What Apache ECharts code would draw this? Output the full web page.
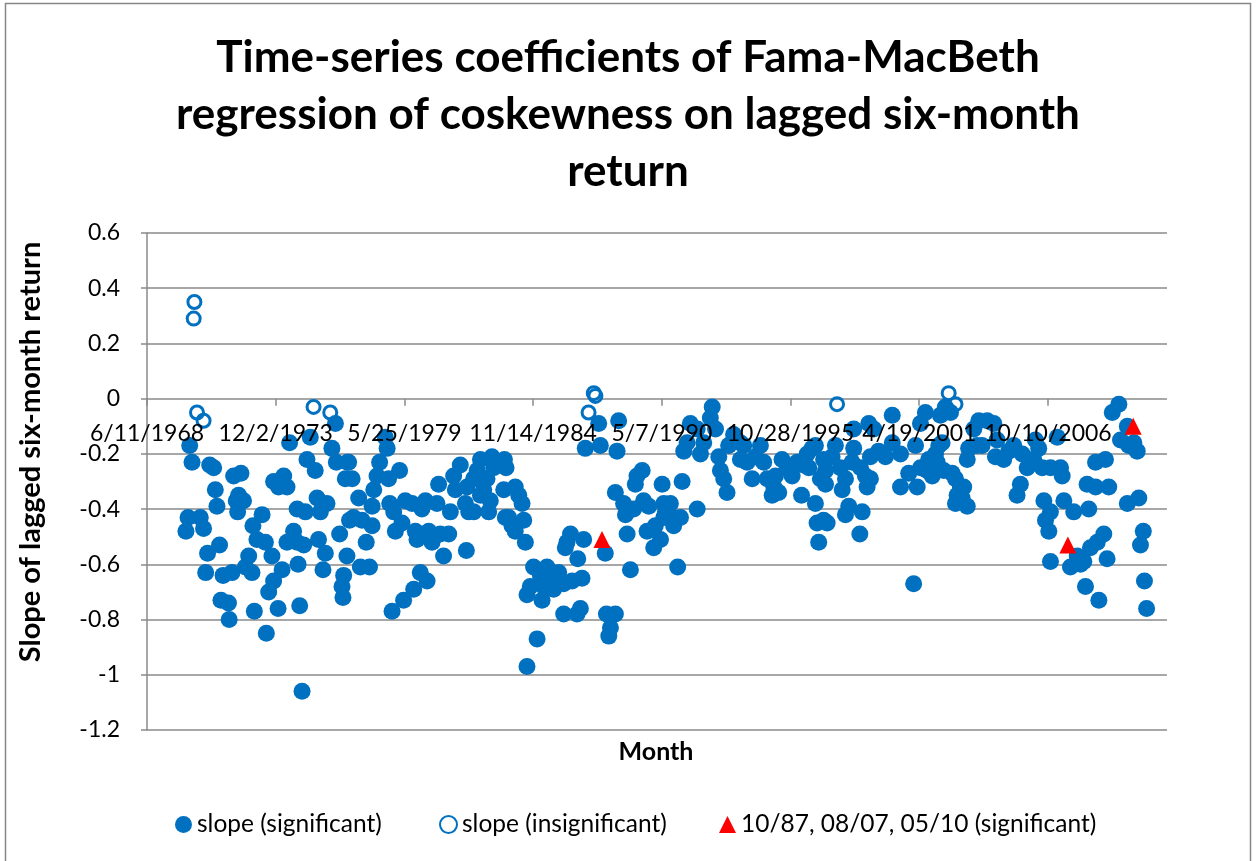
<!DOCTYPE html>
<html lang="en">
<head>
<meta charset="UTF-8">
<title>Fama-MacBeth coskewness slopes</title>
<script src="https://cdn.jsdelivr.net/npm/echarts@6/dist/echarts.min.js"></script>
<style>
    html, body { margin: 0; padding: 0; background: #fff; }
    #chart { width: 1256px; height: 861px; }
</style>
</head>
<body>
<div id="chart"></div>

<script type="text/javascript">
    // [decimal year, slope]
    var significant = [
        [1970.26,-0.17],[1970.36,-0.23],[1971.11,-0.24],[1971.28,-0.25],[1971.35,-0.33],[1971.42,-0.39],[1970.19,-0.43],[1970.71,-0.43],
        [1970.10,-0.48],[1970.85,-0.47],[1971.53,-0.53],[1971.02,-0.56],[1970.94,-0.63],[1971.68,-0.64],[1972.06,-0.63],[1971.59,-0.73],
        [1971.91,-0.74],[1971.94,-0.80],[1972.13,-0.28],[1972.44,-0.27],[1972.34,-0.35],[1972.24,-0.37],[1972.55,-0.37],[1972.30,-0.41],
        [1973.34,-0.42],[1972.95,-0.46],[1973.12,-0.51],[1973.48,-0.52],[1973.76,-0.57],[1972.77,-0.57],[1972.63,-0.61],[1972.91,-0.63],
        [1974.19,-0.62],[1973.83,-0.66],[1973.62,-0.70],[1973.01,-0.77],[1974.02,-0.76],[1973.52,-0.85],[1975.04,-1.06],[1973.83,-0.30],
        [1974.04,-0.32],[1974.26,-0.28],[1974.40,-0.32],[1974.51,-0.16],[1974.83,-0.40],[1975.18,-0.41],[1974.68,-0.48],[1974.40,-0.52],
        [1974.83,-0.52],[1975.11,-0.53],[1974.87,-0.60],[1974.94,-0.75],[1975.39,-0.14],[1975.25,-0.22],[1975.60,-0.26],[1975.68,-0.36],
        [1976.10,-0.38],[1975.82,-0.41],[1975.74,-0.51],[1976.03,-0.56],[1975.93,-0.62],[1976.31,-0.18],[1976.50,-0.23],[1976.46,-0.09],
        [1976.64,-0.49],[1976.88,-0.29],[1976.95,-0.57],[1976.81,-0.64],[1976.74,-0.68],[1976.78,-0.72],[1977.06,-0.44],[1976.97,-0.23],
        [1978.58,-0.14],[1978.66,-0.18],[1977.02,-0.23],[1977.17,-0.29],[1978.34,-0.23],[1979.19,-0.26],[1978.23,-0.28],[1978.72,-0.29],
        [1978.09,-0.33],[1977.45,-0.36],[1978.02,-0.39],[1977.23,-0.43],[1977.59,-0.44],[1978.02,-0.46],[1978.77,-0.38],[1978.94,-0.41],
        [1979.01,-0.48],[1977.77,-0.52],[1977.52,-0.61],[1977.91,-0.61],[1979.43,-0.37],[1979.72,-0.38],[1980.29,-0.37],[1980.14,-0.40],
        [1979.29,-0.45],[1979.86,-0.48],[1979.93,-0.51],[1980.43,-0.48],[1980.57,-0.52],[1980.92,-0.49],[1981.28,-0.49],[1981.06,-0.57],
        [1980.85,-0.31],[1980.78,-0.38],[1981.35,-0.41],[1981.49,-0.28],[1981.77,-0.24],[1980.07,-0.63],[1980.36,-0.66],[1979.79,-0.69],
        [1979.36,-0.73],[1978.87,-0.77],[1982.03,-0.55],[1981.56,-0.33],[1982.06,-0.32],[1982.34,-0.29],[1982.49,-0.26],[1981.99,-0.38],
        [1982.34,-0.41],[1982.13,-0.41],[1982.63,-0.22],[1983.12,-0.21],[1982.91,-0.29],[1982.77,-0.33],[1982.63,-0.35],[1983.05,-0.37],
        [1982.98,-0.41],[1983.19,-0.25],[1983.48,-0.23],[1983.62,-0.33],[1983.69,-0.43],
        [1983.65,-0.22],[1983.72,-0.25],[1984.11,-0.32],[1984.26,-0.35],[1984.40,-0.38],[1983.83,-0.43],[1983.97,-0.46],[1984.11,-0.48],
        [1984.47,-0.44],[1984.54,-0.52],[1984.89,-0.61],[1984.75,-0.68],[1984.61,-0.71],[1985.18,-0.64],[1985.46,-0.61],[1985.68,-0.66],
        [1985.96,-0.63],[1985.32,-0.68],[1985.74,-0.69],[1985.25,-0.73],[1986.17,-0.67],[1986.53,-0.66],[1986.95,-0.65],[1986.17,-0.78],
        [1986.74,-0.78],[1986.88,-0.76],[1985.04,-0.87],[1984.61,-0.97],[1986.46,-0.49],[1986.31,-0.52],[1986.24,-0.54],[1987.02,-0.51],
        [1986.77,-0.58],[1987.94,-0.56],[1987.99,-0.78],[1988.37,-0.78],[1988.16,-0.83],[1988.09,-0.86],[1987.09,-0.18],[1987.73,-0.17],
        [1988.44,-0.19],[1987.66,-0.09],[1988.51,-0.08],[1988.37,-0.34],[1989.51,-0.26],[1989.22,-0.31],[1989.29,-0.28],[1988.72,-0.38],
        [1988.80,-0.42],[1989.15,-0.40],[1989.57,-0.37],[1989.79,-0.39],[1988.87,-0.49],[1989.01,-0.62],[1989.72,-0.48],[1990.07,-0.46],
        [1990.00,-0.54],[1990.29,-0.51],[1990.43,-0.43],[1990.36,-0.31],
        [1991.21,-0.30],[1990.43,-0.38],[1990.71,-0.38],[1990.50,-0.41],[1990.78,-0.43],[1990.85,-0.46],[1991.14,-0.43],[1991.85,-0.40],
        [1991.02,-0.61],[1991.28,-0.19],[1991.42,-0.16],[1991.56,-0.09],[1991.85,-0.11],[1991.99,-0.20],[1992.13,-0.16],[1992.49,-0.03],
        [1992.41,-0.07],[1992.63,-0.11],[1992.77,-0.21],[1993.19,-0.17],[1993.40,-0.13],[1993.69,-0.16],[1992.84,-0.26],[1992.98,-0.29],
        [1993.12,-0.34],[1993.83,-0.17],[1993.69,-0.22],[1993.97,-0.23],[1994.19,-0.29],[1994.33,-0.21],[1994.54,-0.17],[1994.68,-0.23],
        [1994.83,-0.29],[1995.11,-0.32],[1995.04,-0.35],[1995.32,-0.34],[1995.18,-0.28],[1995.46,-0.22],[1995.68,-0.25],[1995.89,-0.28],
        [1996.10,-0.23],[1996.38,-0.24],[1996.60,-0.25],[1996.53,-0.20],[1996.74,-0.18],[1996.88,-0.17],[1996.29,-0.35],[1996.88,-0.38],
        [1996.95,-0.45],[1997.02,-0.52],[1997.09,-0.29],[1997.23,-0.22],[1997.23,-0.44],
        [1997.31,-0.26],[1997.31,-0.31],[1997.38,-0.45],[1997.59,-0.21],[1997.73,-0.17],[1997.94,-0.25],[1998.16,-0.29],[1998.02,-0.33],
        [1998.30,-0.39],[1998.16,-0.42],[1998.87,-0.41],[1998.77,-0.49],[1998.51,-0.11],[1998.51,-0.18],[1998.44,-0.23],[1998.80,-0.25],
        [1999.01,-0.28],[1999.08,-0.32],[1999.22,-0.29],[1999.15,-0.09],[1999.36,-0.11],[1999.22,-0.21],[1999.57,-0.19],[1999.86,-0.21],
        [2000.15,-0.06],[2000.15,-0.16],[2000.50,-0.20],[2000.50,-0.32],[2000.85,-0.27],[2001.21,-0.32],[2001.06,-0.67],[2001.14,-0.17],
        [2001.35,-0.09],[2001.56,-0.05],[2001.35,-0.25],[2001.63,-0.26],[2001.70,-0.22],[2001.99,-0.20],[2002.13,-0.17],[2002.27,-0.16],
        [2001.85,-0.28],[2002.06,-0.23],[2002.34,-0.26],[2002.70,-0.27],[2002.84,-0.29],[2003.05,-0.32],[2003.19,-0.32],[2002.91,-0.35],
        [2002.84,-0.38],[2003.34,-0.39],[2003.12,-0.36],[2002.20,-0.06],[2002.41,-0.03],[2002.63,-0.05],[2003.62,-0.11],[2003.40,-0.18],
        [2003.34,-0.22],[2003.76,-0.17],[2003.83,-0.08],
        [2004.19,-0.08],[2004.47,-0.09],[2003.97,-0.17],[2004.61,-0.15],[2004.54,-0.21],[2004.89,-0.22],[2005.11,-0.19],[2005.32,-0.17],
        [2005.68,-0.20],[2005.89,-0.25],[2006.17,-0.22],[2006.38,-0.18],[2006.53,-0.25],[2006.24,-0.15],[2007.17,-0.14],[2006.88,-0.25],
        [2007.31,-0.25],[2007.38,-0.28],[2005.60,-0.31],[2005.46,-0.35],[2006.60,-0.37],[2006.88,-0.41],[2006.67,-0.44],[2006.81,-0.48],
        [2007.45,-0.37],[2007.87,-0.41],[2008.51,-0.40],[2006.88,-0.59],[2008.02,-0.57],[2008.30,-0.59],[2007.73,-0.61],[2008.16,-0.60],
        [2008.58,-0.54],[2008.87,-0.52],[2009.15,-0.49],[2009.29,-0.58],[2008.37,-0.68],[2008.94,-0.73],[2008.44,-0.31],[2008.80,-0.32],
        [2009.36,-0.32],[2008.80,-0.23],[2009.22,-0.22],[2009.51,-0.05],[2009.79,-0.02],[2010.15,-0.10],[2009.86,-0.15],[2010.21,-0.17],
        [2010.57,-0.19],[2010.43,-0.16],[2010.15,-0.38],[2010.64,-0.36],[2010.83,-0.48],[2010.71,-0.53],[2010.88,-0.66],[2010.97,-0.76]
    ];

    var insignificant = [
        [1970.43,0.29],[1970.46,0.35],[1970.57,-0.05],[1970.85,-0.08],[1975.53,-0.03],[1976.24,-0.05],
        [1987.45,0.02],[1987.52,0.01],[1987.23,-0.05],[1997.80,-0.02],[2002.55,0.02],[2002.84,-0.02]
    ];

    // 10/87, 08/07, 05/10
    var crashMonths = [[1987.80,-0.51],[2007.62,-0.53],[2010.40,-0.10]];

    var seriesNames = ['slope (significant)', 'slope (insignificant)', '10/87, 08/07, 05/10 (significant)'];

    // x axis runs on Excel date serials
    var xMin = 25000, xMax = 40850, xStep = 2000;
    var yMin = -1.2, yMax = 0.6, yStep = 0.2;

    var FONT = 'Lato, "Open Sans", sans-serif';
    var BLUE = '#0070C0';
    var GRID_GREY = '#8a8a8a';

    var gridTop = 233, gridHeight = 497;
    // the date axis sits on the zero line, like Excel's "crosses at 0"
    var zeroShift = gridHeight * (0 - yMin) / (yMax - yMin);

    function toSerial(year) {
        return 24838 + (year - 1968) * 365.25;
    }

    function toPoints(list) {
        return list.map(function (p) { return [toSerial(p[0]), p[1]]; });
    }

    function serialLabel(v) {
        var d = new Date(Date.UTC(1899, 11, 30) + Math.round(v) * 86400000);
        return (d.getUTCMonth() + 1) + '/' + d.getUTCDate() + '/' + d.getUTCFullYear();
    }

    var myChart = echarts.init(document.getElementById('chart'));

    var legendBase = {
        top: 812,
        padding: 0,
        itemWidth: 17,
        itemHeight: 17,
        textStyle: { fontFamily: FONT, fontSize: 24.5, color: '#000' }
    };

    var option = {
        animation: false,
        backgroundColor: '#fff',
        title: {
            text: 'Time-series coefficients of Fama-MacBeth\nregression of coskewness on lagged six-month\nreturn',
            left: 'center',
            top: 24,
            textStyle: {
                fontFamily: FONT,
                fontSize: 44,
                fontWeight: 'bold',
                lineHeight: 57,
                color: '#000'
            }
        },
        legend: [
            Object.assign({ data: [seriesNames[0]], left: 175 }, legendBase),
            Object.assign({ data: [seriesNames[1]], left: 439 }, legendBase),
            Object.assign({ data: [seriesNames[2]], left: 719 }, legendBase)
        ],
        grid: { left: 147, top: gridTop, width: 1020, height: gridHeight },
        xAxis: {
            type: 'value',
            min: xMin,
            max: xMax,
            interval: xStep,
            offset: -zeroShift,
            zlevel: 1,
            z: 5,
            splitLine: { show: false },
            axisLine: { show: false, onZero: false },
            axisTick: { show: true, length: 7, lineStyle: { color: GRID_GREY, width: 1.5 } },
            axisLabel: {
                formatter: serialLabel,
                showMaxLabel: false,
                margin: 23,
                fontFamily: FONT,
                fontSize: 23,
                color: '#000'
            }
        },
        yAxis: {
            type: 'value',
            min: yMin,
            max: yMax,
            interval: yStep,
            axisLine: { show: true, onZero: false, lineStyle: { color: GRID_GREY, width: 1.5 } },
            axisTick: { show: true, length: 6, lineStyle: { color: GRID_GREY, width: 1.5 } },
            splitLine: { lineStyle: { color: GRID_GREY, width: 1.5 } },
            axisLabel: {
                margin: 27,
                fontFamily: FONT,
                fontSize: 23,
                color: '#000',
                formatter: function (v) { return String(Math.round(v * 10) / 10); }
            }
        },
        graphic: [
            {
                type: 'rect',
                silent: true,
                shape: { x: 5.5, y: 3.5, width: 1245, height: 900 },
                style: { fill: 'none', stroke: '#868686', lineWidth: 1.5 }
            },
            {
                type: 'text',
                x: 31,
                y: 452,
                rotation: Math.PI / 2,
                style: {
                    text: 'Slope of lagged six-month return',
                    fontFamily: FONT,
                    fontSize: 29,
                    fontWeight: 'bold',
                    fill: '#000',
                    align: 'center',
                    verticalAlign: 'middle'
                }
            },
            {
                type: 'text',
                x: 656,
                y: 752,
                style: {
                    text: 'Month',
                    fontFamily: FONT,
                    fontSize: 25,
                    fontWeight: 'bold',
                    fill: '#000',
                    align: 'center',
                    verticalAlign: 'middle'
                }
            }
        ],
        series: [
            {
                name: seriesNames[0],
                type: 'scatter',
                symbol: 'circle',
                symbolSize: 17,
                data: toPoints(significant),
                itemStyle: { color: BLUE, opacity: 1 }
            },
            {
                name: seriesNames[1],
                type: 'scatter',
                symbol: 'circle',
                symbolSize: 13,
                data: toPoints(insignificant),
                itemStyle: { color: 'rgba(255,255,255,0)', borderColor: BLUE, borderWidth: 3, opacity: 1 }
            },
            {
                name: seriesNames[2],
                type: 'scatter',
                symbol: 'triangle',
                symbolSize: 17,
                data: toPoints(crashMonths),
                itemStyle: { color: '#FF0000', opacity: 1 }
            }
        ]
    };

    myChart.setOption(option);
</script>
</body>
</html>
